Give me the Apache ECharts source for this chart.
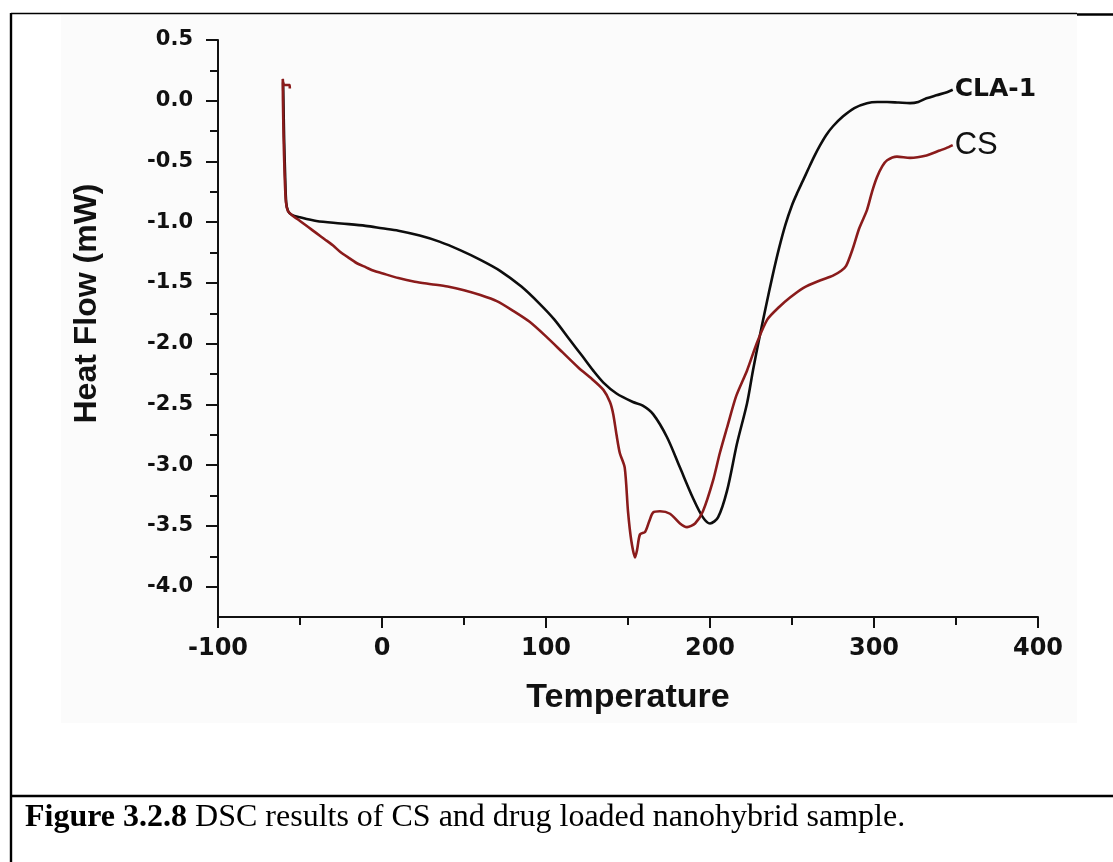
<!DOCTYPE html>
<html>
<head>
<meta charset="utf-8">
<script src="https://cdn.jsdelivr.net/npm/echarts@6/dist/echarts.min.js"></script>
<style>
html,body{margin:0;padding:0;background:#fff;}
#chart{width:1113px;height:862px;}
</style>
</head>
<body>
<div id="chart"></div>
<script>
// ---- data ----
var xTicks = [-100, 0, 100, 200, 300, 400];
var xMinorTicks = [-50, 50, 150, 250, 350];
var yTicks = [0.5, 0.0, -0.5, -1.0, -1.5, -2.0, -2.5, -3.0, -3.5, -4.0];
var yMinorTicks = [0.25, -0.25, -0.75, -1.25, -1.75, -2.25, -2.75, -3.25, -3.75];

var seriesNames = ['CLA-1', 'CS'];

var cla1Data = [
  [-60.3, 0.15], [-60.1, 0.0], [-59.7, -0.3], [-59.1, -0.6], [-58.4, -0.84], [-57.2, -0.91],
  [-55, -0.94], [-50, -0.96], [-40, -0.99], [-25, -1.01], [-10, -1.03], [0, -1.05],
  [10, -1.07], [23, -1.11], [35, -1.16], [47.6, -1.23], [60, -1.31], [72, -1.40],
  [85, -1.53], [96, -1.67], [105, -1.80], [114.6, -1.97], [122, -2.10], [128.7, -2.22],
  [135, -2.32], [143, -2.41], [153, -2.48], [159, -2.51], [165.3, -2.58], [173.8, -2.77],
  [181.7, -3.02], [189.6, -3.27], [195.7, -3.43], [200, -3.48], [204.9, -3.43],
  [210.4, -3.21], [216.5, -2.82], [222.6, -2.49], [226.2, -2.22], [230, -1.96],
  [234, -1.70], [238, -1.45], [242, -1.22], [246, -1.02], [250, -0.86], [253.5, -0.75],
  [256.6, -0.66], [260, -0.56], [263.5, -0.46], [267, -0.37], [271, -0.28], [275, -0.21],
  [281, -0.13], [288, -0.06], [295.7, -0.02], [302, -0.01], [308, -0.01], [315, -0.015],
  [322, -0.02], [327, -0.01], [332, 0.02], [338, 0.045], [344.5, 0.07], [348, 0.09]
];

var csData = [
  [-56.2, 0.10], [-56.3, 0.13], [-59.8, 0.13], [-60.5, 0.18], [-60.4, 0.0], [-60.0, -0.3],
  [-59.4, -0.6], [-58.6, -0.83], [-57.3, -0.91], [-55, -0.94], [-50, -0.99], [-45, -1.04],
  [-40, -1.09], [-35, -1.14], [-30, -1.19], [-25, -1.25], [-19.5, -1.30], [-15, -1.34],
  [-10, -1.37], [-5, -1.40], [0, -1.42], [10, -1.46], [20, -1.49], [30, -1.51],
  [40, -1.53], [50, -1.56], [60, -1.60], [70, -1.65], [80, -1.73], [90, -1.82],
  [100, -1.94], [110, -2.07], [120, -2.20], [128, -2.29], [135, -2.38], [139, -2.48],
  [141, -2.58], [143, -2.75], [145, -2.90], [148, -3.02], [150, -3.38], [152, -3.62],
  [154.3, -3.76], [155.5, -3.70], [157.3, -3.57], [160.4, -3.55], [163, -3.46],
  [165.3, -3.39], [169.5, -3.38], [175.6, -3.40], [181.7, -3.48], [186, -3.51],
  [190.9, -3.48], [195.7, -3.38], [201.8, -3.13], [206, -2.90], [210.4, -2.69],
  [216, -2.43], [222.6, -2.22], [228.7, -1.99], [235, -1.80], [242, -1.70],
  [248.8, -1.62], [257, -1.54], [267, -1.48], [275, -1.44], [280, -1.40], [283, -1.36],
  [287, -1.22], [291, -1.05], [295.7, -0.90], [298.8, -0.75], [301.8, -0.63],
  [305, -0.54], [308, -0.49], [314, -0.46], [322, -0.47], [332, -0.45], [340, -0.41],
  [344, -0.39], [348, -0.365]
];

var captionBold = 'Figure 3.2.8';
var captionText = ' DSC results of CS and drug loaded nanohybrid sample.';
var xTitle = 'Temperature';
var yTitle = 'Heat Flow (mW)';

// ---- chart ----
var chart = echarts.init(document.getElementById('chart'), null, {renderer: 'canvas'});
var tickFont = 'DejaVu Sans';
var option = {
  backgroundColor: '#ffffff',
  animation: false,
  grid: {left: 218, top: 40, right: 75, bottom: 245, containLabel: false},
  xAxis: {
    type: 'value', min: -100, max: 400, interval: 100,
    axisLine: {show: true, onZero: false, lineStyle: {color: '#111', width: 2}},
    axisTick: {show: true, length: 11, lineStyle: {color: '#111', width: 2}},
    minorTick: {show: true, splitNumber: 2, length: 8, lineStyle: {color: '#111', width: 2}},
    splitLine: {show: false},
    axisLabel: {margin: 20, color: '#111', fontFamily: tickFont, fontWeight: 'bold', fontSize: 24,
      formatter: function (v) { return String(v); }},
    name: xTitle, nameLocation: 'middle', nameGap: 64,
    nameTextStyle: {color: '#111', fontFamily: 'Liberation Sans', fontWeight: 'bold', fontSize: 34}
  },
  yAxis: [{
    type: 'value', min: -4.25, max: 0.5,
    axisLine: {show: true, onZero: false, lineStyle: {color: '#111', width: 2}},
    axisTick: {show: true, length: 12, customValues: yTicks, lineStyle: {color: '#111', width: 2}},
    splitLine: {show: false},
    axisLabel: {margin: 25, color: '#111', fontFamily: tickFont, fontWeight: 'bold', fontSize: 21,
      customValues: yTicks,
      formatter: function (v) { return v.toFixed(1); }},
    name: yTitle, nameLocation: 'middle', nameGap: 115, nameRotate: 90,
    nameTextStyle: {color: '#111', fontFamily: 'Liberation Sans', fontWeight: 'bold', fontSize: 32,
      padding: [0, 0, 0, 50]}
  }, {
    type: 'value', min: -4.25, max: 0.5, position: 'left',
    axisLine: {show: false, onZero: false},
    axisTick: {show: true, length: 8, customValues: yMinorTicks, lineStyle: {color: '#111', width: 2}},
    axisLabel: {show: false},
    splitLine: {show: false}
  }],
  series: [{
    name: seriesNames[0], type: 'line', data: cla1Data, yAxisIndex: 0,
    showSymbol: false, smooth: 0.3, z: 3,
    lineStyle: {color: '#0d0d0d', width: 2.6},
    endLabel: {show: true, formatter: '{a}', distance: 2, color: '#111',
      fontFamily: tickFont, fontWeight: 'bold', fontSize: 25}
  }, {
    name: seriesNames[1], type: 'line', data: csData, yAxisIndex: 0,
    showSymbol: false, smooth: 0.25, z: 4,
    lineStyle: {color: '#8a1b1b', width: 2.6},
    endLabel: {show: true, formatter: '{a}', distance: 2, color: '#111',
      fontFamily: 'Liberation Sans', fontSize: 31}
  }],
  graphic: [
    {type: 'rect', z: -100, silent: true, shape: {x: 61, y: 15, width: 1016, height: 708},
      style: {fill: '#fbfbfb'}},
    {type: 'line', z: 100, shape: {x1: 11, y1: 13.5, x2: 1077, y2: 13.5}, style: {stroke: '#000', lineWidth: 1.6}},
    {type: 'line', z: 100, shape: {x1: 1077, y1: 14.5, x2: 1113, y2: 14.5}, style: {stroke: '#000', lineWidth: 2.4}},
    {type: 'line', z: 100, shape: {x1: 11, y1: 13, x2: 11, y2: 862}, style: {stroke: '#000', lineWidth: 2.4}},
    {type: 'line', z: 100, shape: {x1: 10, y1: 796, x2: 1113, y2: 796}, style: {stroke: '#000', lineWidth: 2.4}},
    {type: 'text', z: 100, x: 25, y: 818,
      style: {
        text: '{b|' + captionBold + '}' + captionText,
        fontFamily: 'Liberation Serif', fontSize: 32, fill: '#000', verticalAlign: 'middle',
        rich: {b: {fontFamily: 'Liberation Serif', fontWeight: 'bold', fontSize: 32, fill: '#000'}}
      }}
  ]
};
chart.setOption(option);
</script>
</body>
</html>
